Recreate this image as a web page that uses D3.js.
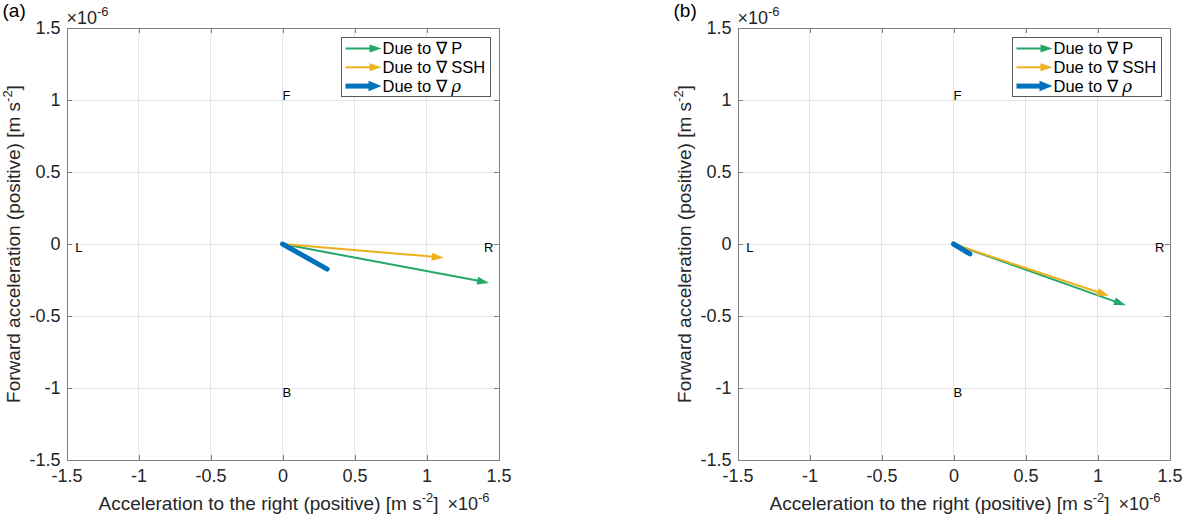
<!DOCTYPE html>
<meta charset="utf-8">
<style>
 body { margin: 0; background: #fff; }
 svg { font-family: "Liberation Sans", Arial, sans-serif; background: #fff; }
 .axis path, .axis line { stroke: #7f7f7f; shape-rendering: crispEdges; }
 .axis text { fill: #262626; font-size: 18px; }
 .grid line { stroke: #e5e5e5; shape-rendering: crispEdges; }
</style>
<body>
<svg width="1183" height="514"></svg>
<script src="https://d3js.org/d3.v7.min.js"></script>
<script>

 // data, in units of 1e-6 m s^-2
 var panelNames = ["(a)", "(b)"];
 var seriesNames = ["Due to \u2207 P", "Due to \u2207 SSH", "Due to \u2207 "];
 var seriesColors = ["#23a86a", "#edb120", "#0072bd"];
 var rightA = [1.435, 1.12, 0.31];
 var fwdA = [-0.27, -0.095, -0.174];
 var rightB = [1.197, 1.08, 0.114];
 var fwdB = [-0.426, -0.36, -0.069];
 var tickValues = [-1.5, -1, -0.5, 0, 0.5, 1, 1.5];
 var tickLabels = ["-1.5", "-1", "-0.5", "0", "0.5", "1", "1.5"];
 var dirLabels = ["F", "B", "L", "R"];
 var dirX = [0, 0, -1.44, 1.4];
 var dirY = [1.035, -1.033, -0.023, -0.023];

 var svg = d3.select("svg");
 var size = 432, top0 = 28;
 var lefts = [66.5, 737.5];
 var widths = [2, 2, 5];       // line widths
 var heads = [true, true, false];

 var x = d3.scaleLinear().domain([-1.5, 1.5]).range([0, size]);
 var y = d3.scaleLinear().domain([-1.5, 1.5]).range([size, 0]);
 var fmt = function(d) { return tickLabels[tickValues.indexOf(d)]; };

 function arrow(g, x0, y0, x1, y1, color, w, head, hl, hw) {
     var ang = Math.atan2(y1 - y0, x1 - x0);
     var ca = Math.cos(ang), sa = Math.sin(ang);
     var ex = head ? x1 - ca * hl * 0.8 : x1, ey = head ? y1 - sa * hl * 0.8 : y1;
     g.append("line")
      .attr("x1", x0).attr("y1", y0).attr("x2", ex).attr("y2", ey)
      .attr("stroke", color).attr("stroke-width", w)
      .attr("stroke-linecap", head ? "butt" : "round");
     if (head) {
         var bx = x1 - ca * hl, by = y1 - sa * hl;
         var pts = [[x1, y1], [bx - sa * hw / 2, by + ca * hw / 2], [bx + sa * hw / 2, by - ca * hw / 2]];
         g.append("polygon").attr("points", pts.map(function(p) { return p.join(","); }).join(" "))
          .attr("fill", color);
     }
 }

 function sup(t, base, exp) {
     t.append("tspan").text(base);
     t.append("tspan").attr("dy", -8).attr("font-size", "0.72em").text(exp);
 }

 panelNames.forEach(function(name, p) {
     var rx = p == 0 ? rightA : rightB;
     var fy = p == 0 ? fwdA : fwdB;
     var g = svg.append("g").attr("transform", "translate(" + lefts[p] + "," + top0 + ")");

     // grid
     var grid = g.append("g").attr("class", "grid");
     grid.selectAll(".gx").data(tickValues.slice(1, -1)).enter().append("line")
         .attr("x1", function(d) { return x(d); }).attr("x2", function(d) { return x(d); })
         .attr("y1", 0).attr("y2", size);
     grid.selectAll(".gy").data(tickValues.slice(1, -1)).enter().append("line")
         .attr("y1", function(d) { return y(d); }).attr("y2", function(d) { return y(d); })
         .attr("x1", 0).attr("x2", size);

     // axes (ticks inside, box)
     g.append("g").attr("class", "axis").attr("transform", "translate(0," + size + ")")
      .call(d3.axisBottom(x).tickValues(tickValues).tickFormat(fmt).tickSizeInner(-5).tickSizeOuter(0).tickPadding(9));
     g.append("g").attr("class", "axis")
      .call(d3.axisLeft(y).tickValues(tickValues).tickFormat(fmt).tickSizeInner(-5).tickSizeOuter(0).tickPadding(6));
     g.append("g").attr("class", "axis")
      .call(d3.axisTop(x).tickValues(tickValues).tickFormat("").tickSizeInner(-5).tickSizeOuter(0));
     g.append("g").attr("class", "axis").attr("transform", "translate(" + size + ",0)")
      .call(d3.axisRight(y).tickValues(tickValues).tickFormat("").tickSizeInner(-5).tickSizeOuter(0));
     g.selectAll(".axis").attr("font-family", null).attr("font-size", null);

     // direction letters
     dirLabels.forEach(function(l, i) {
         g.append("text").attr("x", x(dirX[i])).attr("y", y(dirY[i])).attr("dy", "0.36em")
          .attr("font-size", 13).attr("fill", "#000").text(l);
     });

     // arrows
     rx.forEach(function(v, i) {
         arrow(g, x(0), y(0), x(v), y(fy[i]), seriesColors[i], widths[i], heads[i], 12, 8);
     });

     // legend
     var lg = g.append("g").attr("transform", "translate(" + (size - 157) + ",9)");
     lg.append("rect").attr("width", 148.5).attr("height", 59).attr("fill", "#fff")
       .attr("stroke", "#5a5a5a").attr("stroke-width", 1).attr("shape-rendering", "crispEdges");
     seriesNames.forEach(function(s, i) {
         var cy = 11.5 + i * 18.8;
         arrow(lg, 4, cy, 40, cy, seriesColors[i], widths[i], true, i == 2 ? 13 : 12, i == 2 ? 10.5 : 8);
         var t = lg.append("text").attr("x", 41).attr("y", cy).attr("dy", "0.36em")
                   .attr("font-size", 16.5).attr("fill", "#000").text(s);
         if (i == 2) t.append("tspan").attr("font-family", "'DejaVu Serif', serif")
                      .attr("font-style", "italic").text("\u03c1");
     });

     // labels
     var xl = g.append("text").attr("x", 202).attr("y", size + 50).attr("text-anchor", "middle")
               .attr("font-size", 19).attr("fill", "#262626");
     xl.append("tspan").text("Acceleration to the right (positive) [m s");
     xl.append("tspan").attr("dy", -8).attr("font-size", 13).text("-2");
     xl.append("tspan").attr("dy", 8).text("]");
     var yl = g.append("text").attr("transform", "translate(-47," + (size / 2) + ") rotate(-90)")
               .attr("text-anchor", "middle").attr("font-size", 19).attr("fill", "#262626");
     yl.append("tspan").text("Forward acceleration (positive) [m s");
     yl.append("tspan").attr("dy", -8).attr("font-size", 13).text("-2");
     yl.append("tspan").attr("dy", 8).text("]");

     // exponent markers
     var e1 = g.append("text").attr("x", 0).attr("y", -4).attr("font-size", 18).attr("fill", "#262626");
     sup(e1, "\u00d710", "-6");
     var e2 = g.append("text").attr("x", 381).attr("y", size + 50).attr("font-size", 18).attr("fill", "#262626");
     sup(e2, "\u00d710", "-6");

     svg.append("text").attr("x", lefts[p] - 64).attr("y", 17).attr("font-size", 19)
        .attr("fill", "#000").text(name);
 });

</script>
</body>
